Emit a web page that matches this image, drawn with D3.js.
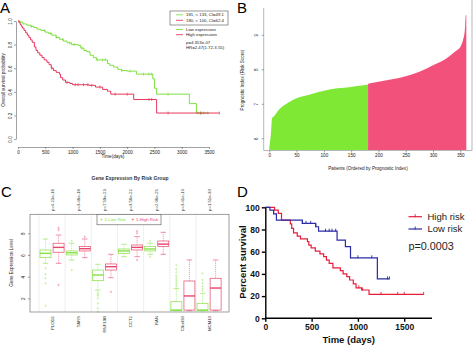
<!DOCTYPE html>
<html>
<head>
<meta charset="utf-8">
<script src="https://cdn.jsdelivr.net/npm/d3@7"></script>
<style>
  body { margin: 0; background: #fff; }
  svg { display: block; font-family: "Liberation Sans", Arial, sans-serif; }
</style>
</head>
<body>
<div id="chart"></div>
<script>
// ---------- panel A : survival by expression ----------
const aLowTimes = [0, 40, 90, 160, 230, 290, 350, 420, 500, 560, 620, 700, 760, 830, 900, 980, 1100, 1150, 1210, 1260, 1320, 1380, 1440, 1640, 1680, 1750, 1830, 1900, 2000, 2170, 2470, 2500, 2540, 3140, 3270];
const aLowSurv  = [1.0, 0.99, 0.975, 0.965, 0.955, 0.945, 0.93, 0.92, 0.905, 0.895, 0.88, 0.86, 0.845, 0.83, 0.815, 0.80, 0.795, 0.77, 0.75, 0.74, 0.71, 0.69, 0.67, 0.64, 0.625, 0.61, 0.59, 0.58, 0.575, 0.55, 0.51, 0.43, 0.38, 0.30, 0.22];
const aLowEnd = 3490;
const aLowCensor = [250, 480, 600, 700, 820, 950, 1030, 1170, 1450, 1550, 1600, 1900, 2050, 2300, 2400, 2450, 2750, 3300, 3350, 3400, 3480];

const aHighTimes = [0, 20, 40, 60, 80, 110, 140, 170, 200, 230, 260, 300, 330, 360, 400, 440, 480, 530, 570, 610, 650, 700, 760, 780, 820, 870, 950, 1000, 1300, 1420, 1550, 1640, 1700, 2120, 2540];
const aHighSurv  = [1.0, 0.985, 0.97, 0.955, 0.94, 0.92, 0.90, 0.88, 0.86, 0.84, 0.82, 0.78, 0.75, 0.73, 0.71, 0.69, 0.67, 0.65, 0.63, 0.60, 0.58, 0.565, 0.55, 0.52, 0.50, 0.48, 0.47, 0.46, 0.455, 0.44, 0.42, 0.405, 0.38, 0.335, 0.22];
const aHighEnd = 3690;
const aHighCensor = [620, 900, 1050, 1100, 1200, 1280, 1350, 1500, 1780, 2000, 2400, 2450, 2750, 3350, 3690];

const aXTicks = [0, 500, 1000, 1500, 2000, 2500, 3000, 3500];
const aYTicks = [0, 0.2, 0.4, 0.6, 0.8, 1.0];
const aLegendBox = ["181, < 133, CI=49.1", "180, < 100, CI=62.4"];
const aLegendGroups = ["Low expression", "High expression"];
const aStats = ["p=4.353e-07", "HR=2.47(1.72-3.55)"];

// ---------- panel B : ordered prognostic index ----------
const bLowIdx   = [0, 1, 2, 3, 4, 5, 8, 10, 15, 20, 30, 40, 50, 60, 75, 90, 100, 125, 150, 165, 181];
const bLowScore = [5.75, 5.85, 6.0, 6.14, 6.4, 6.58, 6.63, 6.67, 6.78, 6.87, 6.99, 7.08, 7.16, 7.21, 7.27, 7.34, 7.38, 7.45, 7.49, 7.52, 7.56];
const bHighIdx   = [181, 190, 200, 225, 250, 275, 300, 320, 330, 340, 345, 350, 355, 358, 359, 360, 361];
const bHighScore = [7.58, 7.61, 7.64, 7.71, 7.80, 7.93, 8.12, 8.27, 8.38, 8.51, 8.57, 8.65, 8.85, 9.09, 9.3, 9.57, 9.57];
const bXTicks = [0, 50, 100, 150, 200, 250, 300, 350];
const bYTicks = [6, 7, 8, 9];

// ---------- panel C : expression by risk group ----------
const cGenes = ["PLOD2", "TARS", "RNF19B", "CCT2", "RAN", "C9orf30", "MCM10"];
const cPValues = ["p=4.23e-18", "p=3.48e-18", "p=7.59e-23", "p=3.58e-22", "p=2.08e-25", "p=3.41e-13", "p=1.51e-30"];
// [lower whisker, q1, median, q3, upper whisker]
const cLowStats = [
  [5.23, 5.75, 6.15, 6.46, 7.47],
  [5.54, 6.0, 6.2, 6.37, 7.08],
  [2.76, 3.63, 4.15, 4.61, 5.14],
  [5.84, 6.15, 6.37, 6.55, 6.98],
  [6.06, 6.37, 6.55, 6.77, 7.08],
  [0.86, 0.86, 0.92, 1.69, 2.9],
  [0.86, 0.86, 0.92, 1.54, 2.46]
];
const cHighStats = [
  [5.23, 6.25, 6.7, 7.08, 7.84],
  [5.75, 6.37, 6.58, 6.77, 7.47],
  [3.9, 4.61, 4.92, 5.17, 6.06],
  [5.84, 6.46, 6.7, 6.92, 7.69],
  [6.06, 6.77, 7.0, 7.29, 8.09],
  [0.86, 0.92, 2.22, 3.6, 5.54],
  [0.86, 0.92, 2.95, 3.85, 5.54]
];
const cLowOut = [
  [4.77, 4.21, 3.85, 3.38, 1.32],
  [4.61, 7.29],
  [2.55, 2.37, 2.24, 2.0, 1.54, 1.08, 0.76],
  [],
  [7.29, 5.84],
  [3.1, 3.3, 3.5, 3.7, 3.9, 4.1, 4.4, 4.7, 5.07],
  [2.7, 2.9, 3.1, 3.4, 3.7, 4.3]
];
const cHighOut = [
  [8.3, 8.5, 3.23],
  [7.67],
  [2.6],
  [8.2, 8.0, 5.54],
  [],
  [],
  []
];
const cYTicks = [2, 4, 6, 8];
const cLegend = ["2-Low Risk", "1-High Risk"];

// ---------- panel D : survival by risk ----------
const dLowTimes = [0, 50, 90, 120, 400, 545, 575, 775, 865, 920, 1210];
const dLowSurv  = [100, 97.5, 94, 88.5, 85.5, 82.5, 78.5, 70.5, 64.5, 54.5, 35.5];
const dLowEnd = 1340;
const dLowCensor = [400, 440, 490, 545, 650, 690, 720, 760, 920, 1000, 1150, 1320, 1340];

const dHighTimes = [0, 100, 140, 175, 270, 285, 305, 345, 380, 455, 470, 495, 540, 590, 630, 660, 690, 730, 810, 840, 880, 910, 950, 980, 1040, 1120];
const dHighSurv  = [100, 97.5, 94.5, 88.5, 85, 81, 77, 74, 71.5, 69, 66, 63.5, 60.5, 58, 55.5, 52.5, 49.5, 45.5, 43, 40, 37.5, 34.5, 31, 27.5, 25.5, 21.5];
const dHighEnd = 1710;
const dHighCensor = [1010, 1050, 1250, 1430, 1500, 1710];
const dXTicks = [0, 500, 1000, 1500];
const dYTicks = [0, 20, 40, 60, 80, 100];
const dLegend = ["High risk", "Low risk"];
const dPValue = "p=0.0003";

const width = 474, height = 346;
const svg = d3.select("#chart").append("svg")
  .attr("width", width).attr("height", height)
  .attr("viewBox", `0 0 ${width} ${height}`);

svg.append("rect").attr("width", width).attr("height", height).attr("fill", "#fff");

function stepPoints(times, surv, end) {
  let pts = times.map((t, i) => [t, surv[i]]);
  pts.push([end, surv[surv.length - 1]]);
  return pts;
}
function survAt(times, surv, t) {
  let i = d3.bisectRight(times, t) - 1;
  return surv[Math.max(0, i)];
}
// R style rotated y tick labels
function rotateYLabels(g, off) {
  g.selectAll(".tick text").attr("transform", "rotate(-90)").attr("text-anchor", "middle")
    .attr("x", 0).attr("y", -off).attr("dy", 0);
}

// panel letters
[["A", 0, 13], ["B", 237, 13], ["C", 1, 197], ["D", 237, 197]].forEach(l => {
  svg.append("text").attr("x", l[1]).attr("y", l[2]).attr("font-size", 15).text(l[0]);
});

// ================= A =================
const colA = { low: "#72dc2e", high: "#e3224c" };
const xA = d3.scaleLinear().domain([0, 3500]).range([18, 209]);
const yA = d3.scaleLinear().domain([0, 1]).range([139, 21]);
const gA = svg.append("g").attr("class", "panel-a");

gA.append("g")
  .attr("transform", "translate(0,147)")
  .call(d3.axisBottom(xA).tickValues(aXTicks).tickFormat(d3.format("d")).tickSize(2).tickSizeOuter(0).tickPadding(1.5))
  .call(g => g.selectAll("text").attr("font-size", 4.6).attr("fill", "#222"))
  .call(g => g.selectAll("path,line").attr("stroke", "#444").attr("stroke-width", 0.5));

gA.append("g")
  .attr("transform", "translate(16,0)")
  .call(d3.axisLeft(yA).tickValues(aYTicks).tickFormat(d3.format(".1f")).tickSize(2).tickSizeOuter(0))
  .call(g => g.selectAll("path,line").attr("stroke", "#444").attr("stroke-width", 0.5))
  .call(g => g.selectAll("text").attr("font-size", 4.6).attr("fill", "#222"))
  .call(g => rotateYLabels(g, 4.5));

const lineA = d3.line().x(d => xA(d[0])).y(d => yA(d[1])).curve(d3.curveStepAfter);
[[aLowTimes, aLowSurv, aLowEnd, aLowCensor, colA.low], [aHighTimes, aHighSurv, aHighEnd, aHighCensor, colA.high]]
  .forEach(([t, s, e, c, col]) => {
    gA.append("path").attr("d", lineA(stepPoints(t, s, e)))
      .attr("fill", "none").attr("stroke", col).attr("stroke-width", 0.9);
    gA.selectAll(null).data(c).enter().append("line")
      .attr("x1", d => xA(d)).attr("x2", d => xA(d))
      .attr("y1", d => yA(survAt(t, s, d)) - 1.5).attr("y2", d => yA(survAt(t, s, d)) + 1.5)
      .attr("stroke", col).attr("stroke-width", 0.6);
  });

gA.append("text").attr("x", 113).attr("y", 158).attr("text-anchor", "middle")
  .attr("font-size", 4.6).attr("fill", "#222").text("Time(days)");
gA.append("text").attr("transform", "translate(5,80) rotate(-90)").attr("text-anchor", "middle")
  .attr("font-size", 4.6).attr("fill", "#222").text("Overall survival probability");

gA.append("rect").attr("x", 170).attr("y", 11).attr("width", 58).attr("height", 14)
  .attr("fill", "#fff").attr("stroke", "#333").attr("stroke-width", 0.5);
[colA.low, colA.high].forEach((col, i) => {
  gA.append("line").attr("x1", 176).attr("x2", 183).attr("y1", 14.8 + i * 5.5).attr("y2", 14.8 + i * 5.5)
    .attr("stroke", col).attr("stroke-width", 0.8);
  gA.append("text").attr("x", 186).attr("y", 16.4 + i * 5.5).attr("font-size", 4.3).attr("fill", "#222").text(aLegendBox[i]);
  gA.append("line").attr("x1", 176).attr("x2", 183).attr("y1", 29.5 + i * 5.2).attr("y2", 29.5 + i * 5.2)
    .attr("stroke", col).attr("stroke-width", 0.8);
  gA.append("text").attr("x", 186).attr("y", 31.1 + i * 5.2).attr("font-size", 4.3).attr("fill", "#222").text(aLegendGroups[i]);
  gA.append("text").attr("x", 186).attr("y", 44 + i * 5.2).attr("font-size", 4.3).attr("fill", "#222").text(aStats[i]);
});

// ================= B =================
const colB = { low: "#7ee834", high: "#f2517b" };
const xB = d3.scaleLinear().domain([0, 350]).range([269.3, 460.3]);
const yB = d3.scaleLinear().domain([5.66, 9.72]).range([150, 10]);
const gB = svg.append("g").attr("class", "panel-b");

const areaB = d3.area().x(d => xB(d[0])).y0(yB(5.66)).y1(d => yB(d[1])).curve(d3.curveMonotoneX);
gB.append("path").attr("d", areaB(bLowIdx.map((d, i) => [d, bLowScore[i]]))).attr("fill", colB.low);
gB.append("path").attr("d", areaB(bHighIdx.map((d, i) => [d, bHighScore[i]]))).attr("fill", colB.high);

gB.append("path").attr("d", "M263.7,8V150.5H472V0").attr("fill", "none").attr("stroke", "#888").attr("stroke-width", 0.6);

gB.append("g").attr("transform", "translate(0,150.5)")
  .call(d3.axisBottom(xB).tickValues(bXTicks).tickSize(2).tickSizeOuter(0).tickPadding(1.5))
  .call(g => g.select(".domain").remove())
  .call(g => g.selectAll("line").attr("stroke", "#444").attr("stroke-width", 0.5))
  .call(g => g.selectAll("text").attr("font-size", 4.6).attr("fill", "#222"));

gB.append("g").attr("transform", "translate(263.7,0)")
  .call(d3.axisLeft(yB).tickValues(bYTicks).tickFormat(d3.format("d")).tickSize(2).tickSizeOuter(0))
  .call(g => g.select(".domain").remove())
  .call(g => g.selectAll("line").attr("stroke", "#444").attr("stroke-width", 0.5))
  .call(g => g.selectAll("text").attr("font-size", 4.6).attr("fill", "#222"))
  .call(g => rotateYLabels(g, 5.5));

gB.append("text").attr("x", 368).attr("y", 170).attr("text-anchor", "middle")
  .attr("font-size", 4.6).attr("fill", "#222").text("Patients (Ordered by Prognostic Index)");
gB.append("text").attr("transform", "translate(244,80) rotate(-90)").attr("text-anchor", "middle")
  .attr("font-size", 4.6).attr("fill", "#222").text("Prognostic Index (Risk Score)");

// ================= C =================
const colC = { low: "#86e044", high: "#e8456c" };
const xC = d3.scaleLinear().domain([1, 14]).range([45.5, 215.6]);
const yC = d3.scaleLinear().domain([0.74, 9.75]).range([312, 214.3]);
const gC = svg.append("g").attr("class", "panel-c");

gC.append("text").attr("x", 130).attr("y", 179.5).attr("text-anchor", "middle")
  .attr("font-size", 5).attr("font-weight", "bold").attr("fill", "#333").text("Gene Expression By Risk Group");

cGenes.forEach((g, i) => {
  gC.append("line").attr("x1", xC(0.5 + 2 * i)).attr("x2", xC(0.5 + 2 * i))
    .attr("y1", 214.3).attr("y2", 312).attr("stroke", "#bbb").attr("stroke-width", 0.5).attr("stroke-dasharray", "1,1");
});

const hw = 5.5;
function drawBox(pos, st, out, col) {
  const x = xC(pos);
  const g = gC.append("g");
  g.append("line").attr("x1", x).attr("x2", x).attr("y1", yC(st[0])).attr("y2", yC(st[1]))
    .attr("stroke", col).attr("stroke-width", 0.5).attr("stroke-dasharray", "1.2,0.8");
  g.append("line").attr("x1", x).attr("x2", x).attr("y1", yC(st[3])).attr("y2", yC(st[4]))
    .attr("stroke", col).attr("stroke-width", 0.5).attr("stroke-dasharray", "1.2,0.8");
  [st[0], st[4]].forEach(v => g.append("line").attr("x1", x - hw / 2).attr("x2", x + hw / 2)
    .attr("y1", yC(v)).attr("y2", yC(v)).attr("stroke", col).attr("stroke-width", 0.6));
  g.append("rect").attr("x", x - hw).attr("width", 2 * hw)
    .attr("y", yC(st[3])).attr("height", Math.max(0.5, yC(st[1]) - yC(st[3])))
    .attr("fill", "#fff").attr("stroke", col).attr("stroke-width", 0.7);
  g.append("line").attr("x1", x - hw).attr("x2", x + hw).attr("y1", yC(st[2])).attr("y2", yC(st[2]))
    .attr("stroke", col).attr("stroke-width", 1.4);
  g.selectAll(null).data(out).enter().append("circle")
    .attr("cx", x).attr("cy", d => yC(d)).attr("r", 0.7)
    .attr("fill", "none").attr("stroke", col).attr("stroke-width", 0.4);
}
cGenes.forEach((g, i) => {
  drawBox(2 * i + 1, cLowStats[i], cLowOut[i], colC.low);
  drawBox(2 * i + 2, cHighStats[i], cHighOut[i], colC.high);
  gC.append("text").attr("transform", `translate(${xC(2 * i + 1.5) + 1.5},211) rotate(-90)`)
    .attr("font-size", 4.3).attr("fill", "#333").text(cPValues[i]);
  gC.append("text").attr("transform", `translate(${xC(2 * i + 1.5) + 1.5},316) rotate(-90)`)
    .attr("text-anchor", "end").attr("font-size", 4.3).attr("fill", "#333").text(g);
});

gC.append("rect").attr("x", 30).attr("y", 214.3).attr("width", 199).attr("height", 97.7)
  .attr("fill", "none").attr("stroke", "#777").attr("stroke-width", 0.7);

gC.append("g").attr("transform", "translate(30,0)")
  .call(d3.axisLeft(yC).tickValues(cYTicks).tickSize(2).tickSizeOuter(0))
  .call(g => g.select(".domain").remove())
  .call(g => g.selectAll("line").attr("stroke", "#444").attr("stroke-width", 0.5))
  .call(g => g.selectAll("text").attr("font-size", 4.6).attr("fill", "#222"))
  .call(g => rotateYLabels(g, 5.5));

gC.append("text").attr("transform", "translate(13,263) rotate(-90)").attr("text-anchor", "middle")
  .attr("font-size", 4.6).attr("fill", "#222").text("Gene Expression Level");

gC.append("rect").attr("x", 97).attr("y", 214.3).attr("width", 64).attr("height", 10.5)
  .attr("fill", "#fff").attr("stroke", "#555").attr("stroke-width", 0.6);
[colC.low, colC.high].forEach((col, i) => {
  const lx = 100 + i * 31.5;
  gC.append("text").attr("x", lx).attr("y", 221).attr("font-size", 4.6).attr("fill", col).text("+");
  gC.append("text").attr("x", lx + 4.5).attr("y", 221).attr("font-size", 4.3).attr("fill", col).text(cLegend[i]);
});

// ================= D =================
const colD = { high: "#e41f3b", low: "#2b2ba6" };
const xD = d3.scaleLinear().domain([0, 1800]).range([265.3, 432]);
const yD = d3.scaleLinear().domain([0, 100]).range([318.3, 207.3]);
const gD = svg.append("g").attr("class", "panel-d");

const lineD = d3.line().x(d => xD(d[0])).y(d => yD(d[1])).curve(d3.curveStepAfter);
[[dHighTimes, dHighSurv, dHighEnd, dHighCensor, colD.high], [dLowTimes, dLowSurv, dLowEnd, dLowCensor, colD.low]]
  .forEach(([t, s, e, c, col]) => {
    gD.append("path").attr("d", lineD(stepPoints(t, s, e)))
      .attr("fill", "none").attr("stroke", col).attr("stroke-width", 1.2);
    gD.selectAll(null).data(c).enter().append("line")
      .attr("x1", d => xD(d)).attr("x2", d => xD(d))
      .attr("y1", d => yD(survAt(t, s, d)) - 2.5).attr("y2", d => yD(survAt(t, s, d)) + 0.5)
      .attr("stroke", col).attr("stroke-width", 0.9);
  });

gD.append("g").attr("transform", "translate(0,318.3)")
  .call(d3.axisBottom(xD).tickValues(dXTicks).tickFormat(d3.format("d")).tickSize(3.5).tickSizeOuter(0).tickPadding(2))
  .call(g => g.select(".domain").attr("d", `M${xD(0)},0H${xD(1800)}`))
  .call(g => g.selectAll("path,line").attr("stroke", "#000").attr("stroke-width", 1.4))
  .call(g => g.selectAll("text").attr("font-size", 8.5).attr("font-weight", "bold").attr("fill", "#111"));

gD.append("g").attr("transform", "translate(265.3,0)")
  .call(d3.axisLeft(yD).tickValues(dYTicks).tickSize(3.5).tickSizeOuter(0).tickPadding(2))
  .call(g => g.selectAll("path,line").attr("stroke", "#000").attr("stroke-width", 1.4))
  .call(g => g.selectAll("text").attr("font-size", 8.5).attr("font-weight", "bold").attr("fill", "#111"));

gD.append("text").attr("x", 348.7).attr("y", 342.5).attr("text-anchor", "middle")
  .attr("font-size", 9.5).attr("font-weight", "bold").attr("fill", "#111").text("Time (days)");
gD.append("text").attr("transform", "translate(246,262) rotate(-90)").attr("text-anchor", "middle")
  .attr("font-size", 9.5).attr("font-weight", "bold").attr("fill", "#111").text("Percent survival");

[colD.high, colD.low].forEach((col, i) => {
  const ly = 216.7 + i * 12.3;
  gD.append("line").attr("x1", 408.5).attr("x2", 422).attr("y1", ly).attr("y2", ly).attr("stroke", col).attr("stroke-width", 1.2);
  gD.append("line").attr("x1", 415.2).attr("x2", 415.2).attr("y1", ly - 2.5).attr("y2", ly + 0.5).attr("stroke", col).attr("stroke-width", 0.9);
  gD.append("text").attr("x", 427.5).attr("y", ly + 3.4).attr("font-size", 9.5).attr("fill", "#222").text(dLegend[i]);
});
gD.append("text").attr("x", 408.5).attr("y", 249.5).attr("font-size", 10.8).attr("fill", "#222").text(dPValue);
</script>
</body>
</html>
